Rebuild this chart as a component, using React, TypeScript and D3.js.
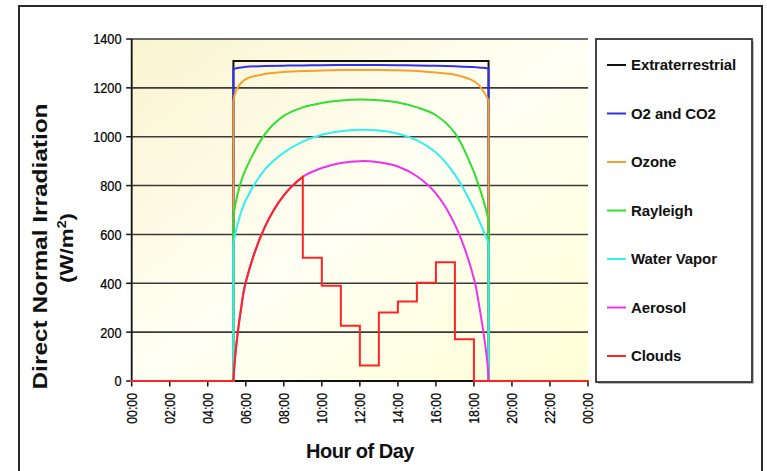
import React from 'react';
import * as d3 from 'd3';

// ---- data ----
const hours = [5.35, 5.4, 5.5, 5.75, 6, 7, 8, 9, 10, 11, 12, 13, 14, 15, 16, 17, 18, 18.25, 18.5, 18.7, 18.77];
const extraterrestrial = [1310, 1310, 1310, 1310, 1310, 1310, 1310, 1310, 1310, 1310, 1310, 1310, 1310, 1310, 1310, 1310, 1310, 1310, 1310, 1310, 1310];
const o2co2 = [1277, 1278, 1280, 1283, 1286, 1289, 1291, 1292, 1293, 1294, 1294, 1294, 1293, 1292, 1290, 1288, 1285, 1283, 1282, 1280, 1279];
const ozone = [1145, 1165, 1190, 1220, 1236, 1257, 1265, 1269, 1271, 1273, 1273, 1273, 1272, 1269, 1263, 1254, 1228, 1212, 1185, 1160, 1150];
const rayleigh = [670, 700, 741, 816, 867, 1010, 1085, 1120, 1138, 1148, 1152, 1149, 1140, 1120, 1088, 1015, 855, 800, 740, 680, 655];
const waterVapor = [560, 585, 620, 690, 740, 865, 935, 980, 1008, 1022, 1028, 1025, 1012, 985, 935, 845, 705, 660, 615, 578, 560];
const aerosol = [0, 60, 145, 295, 405, 630, 760, 836, 872, 892, 900, 895, 878, 838, 768, 640, 420, 320, 200, 80, 0];
const cloudMorningHours = [5.35, 5.4, 5.5, 5.75, 6, 7, 8, 9];
const cloudMorning = [0, 60, 145, 295, 405, 630, 760, 836];
const cloudStepHours = [9, 10, 11, 12, 13, 14, 15, 16, 17, 18];
const cloudStepValues = [505, 390, 226, 63, 280, 325, 402, 486, 171, 0];

const seriesNames = ['Extraterrestrial', 'O2 and CO2', 'Ozone', 'Rayleigh', 'Water Vapor', 'Aerosol', 'Clouds'];
const seriesColors = ['#111111', '#3030F0', '#F7A030', '#30E030', '#30F0F0', '#F030F0', '#FF2424'];
const yTicks = [0, 200, 400, 600, 800, 1000, 1200, 1400];
const xTicks = [0, 2, 4, 6, 8, 10, 12, 14, 16, 18, 20, 22, 24];
const xTickLabels = ['00:00', '02:00', '04:00', '06:00', '08:00', '10:00', '12:00', '14:00', '16:00', '18:00', '20:00', '22:00', '00:00'];

const FONT = '"Liberation Sans", Arial, sans-serif';

export default function App() {
  const x = d3.scaleLinear().domain([0, 24]).range([131.7, 588]);
  const y = d3.scaleLinear().domain([0, 1400]).range([381, 39]);
  const lin = d3.line<[number, number]>().x(d => x(d[0])).y(d => y(d[1]));
  const smooth = d3.line<[number, number]>().x(d => x(d[0])).y(d => y(d[1])).curve(d3.curveCatmullRom.alpha(0.5));
  const step = d3.line<[number, number]>().x(d => x(d[0])).y(d => y(d[1])).curve(d3.curveStepAfter);

  const dayPath = (vals: number[]) => {
    const sr = hours[0];
    const ss = hours[hours.length - 1];
    const pts = hours.map((h, i) => [h, vals[i]] as [number, number]);
    return (
      lin([[0, 0], [sr, 0], [sr, vals[0]]]) +
      smooth(pts) +
      lin([[ss, vals[vals.length - 1]], [ss, 0], [24, 0]])
    );
  };

  const cloudPath = () => {
    const sr = cloudMorningHours[0];
    const morning = cloudMorningHours.map((h, i) => [h, cloudMorning[i]] as [number, number]);
    const last = morning[morning.length - 1];
    const steps: [number, number][] = [last, ...cloudStepHours.map((h, i) => [h, cloudStepValues[i]] as [number, number]), [24, 0]];
    return lin([[0, 0], [sr, 0]]) + smooth(morning) + step(steps);
  };

  const allVals = [extraterrestrial, o2co2, ozone, rayleigh, waterVapor, aerosol];
  const paths = allVals.map(v => dayPath(v));
  paths.push(cloudPath());

  const legendX = 596, legendY = 39, legendW = 156, legendH = 343;

  return (
    <svg width={767} height={471} style={{ position: 'absolute', left: 0, top: 0, fontFamily: FONT }}>
      <defs>
        <linearGradient id="bg" x1="0" y1="0" x2="1" y2="1">
          <stop offset="0" stopColor="#FAF4CF" />
          <stop offset="0.5" stopColor="#FFFFF4" />
          <stop offset="1" stopColor="#FFFFD6" />
        </linearGradient>
      </defs>
      <rect x={0} y={0} width={767} height={471} fill="#ffffff" />
      <rect x={19} y={6} width={743} height={480} fill="none" stroke="#2a2a2a" strokeWidth={2} />

      {/* plot background */}
      <rect x={x(0)} y={y(1400)} width={x(24) - x(0)} height={y(0) - y(1400)} fill="url(#bg)" />

      {/* grid lines */}
      {yTicks.filter(t => t > 0).map(t => (
        <line key={t} x1={x(0)} x2={x(24)} y1={y(t)} y2={y(t)} stroke="#3a3a3a" strokeWidth={1.6} />
      ))}

      {/* y axis */}
      <line x1={x(0)} x2={x(0)} y1={y(1400)} y2={y(0)} stroke="#111" strokeWidth={1.8} />
      {yTicks.map(t => (
        <g key={t}>
          <line x1={x(0) - 5.5} x2={x(0)} y1={y(t)} y2={y(t)} stroke="#111" strokeWidth={1.5} />
          <text transform={`translate(121.5,${y(t)}) scale(0.85,1)`} dy="0.36em" textAnchor="end" fontSize={15} fill="#000" stroke="#000" strokeWidth={0.25}>{t}</text>
        </g>
      ))}

      {/* x axis */}
      <line x1={x(0)} x2={x(24)} y1={y(0)} y2={y(0)} stroke="#111" strokeWidth={1.8} />
      {xTicks.map((t, i) => (
        <g key={t}>
          <line x1={x(t)} x2={x(t)} y1={y(0)} y2={y(0) + 5.5} stroke="#111" strokeWidth={1.5} />
          <text transform={`translate(${x(t)},${393}) rotate(-90) scale(0.85,1)`} dy="0.36em" textAnchor="end" fontSize={14.5} fill="#000" stroke="#000" strokeWidth={0.25}>{xTickLabels[i]}</text>
        </g>
      ))}

      {/* series */}
      {paths.map((p, i) => (
        <path key={i} d={p} fill="none" stroke={seriesColors[i]} strokeWidth={2} strokeLinejoin="miter" strokeLinecap="square" />
      ))}

      {/* axis titles */}
      <text x={360} y={458} textAnchor="middle" fontSize={20} fontWeight="bold" letterSpacing={-0.5} fill="#111">Hour of Day</text>
      <text transform={`translate(46.5,246.5) rotate(-90)`} textAnchor="middle" fontSize={21} fontWeight="bold" fill="#111" textLength={286} lengthAdjust="spacingAndGlyphs">Direct Normal Irradiation</text>
      <text transform={`translate(73,248) rotate(-90)`} textAnchor="middle" fontSize={19} fontWeight="bold" fill="#111" textLength={70} lengthAdjust="spacingAndGlyphs">
        (W/m<tspan dy={-7} fontSize={12}>2</tspan><tspan dy={7}>)</tspan>
      </text>

      {/* legend */}
      <rect x={legendX + 2} y={legendY + 2} width={legendW} height={legendH} fill="#bbb" />
      <rect x={legendX} y={legendY} width={legendW} height={legendH} fill="#ffffff" stroke="#333" strokeWidth={1.8} />
      {seriesNames.map((n, i) => {
        const cy = 65 + i * 48.5;
        return (
          <g key={n}>
            <line x1={607} x2={626} y1={cy} y2={cy} stroke={seriesColors[i]} strokeWidth={2} />
            <text x={631} y={cy} dy="0.36em" fontSize={15} fontWeight="bold" letterSpacing={-0.1} fill="#111">{n}</text>
          </g>
        );
      })}
    </svg>
  );
}
